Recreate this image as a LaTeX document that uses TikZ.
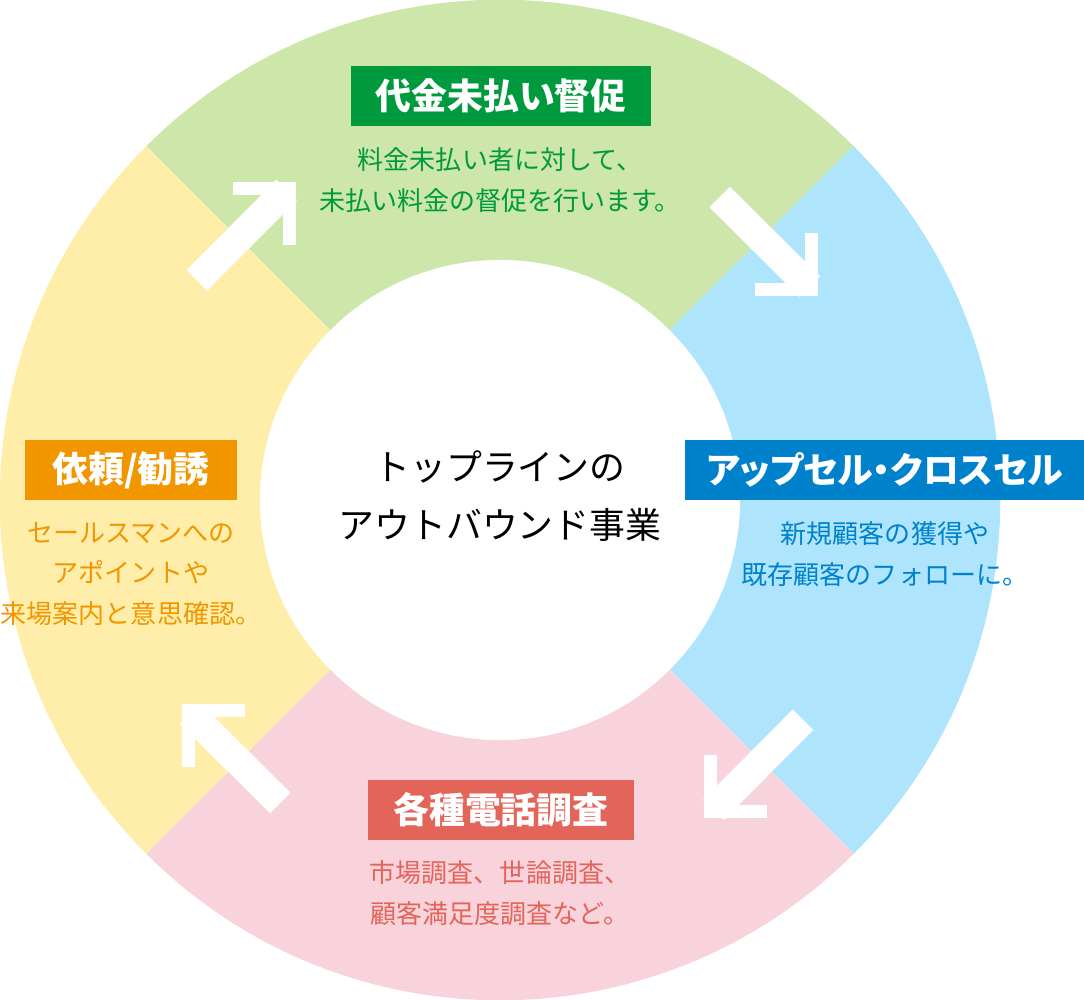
\documentclass[tikz,border=0pt]{standalone}
\usepackage{fontspec}
\setmainfont{Noto Sans CJK JP}
\newfontfamily\titlefont[RawFeature=+palt]{Noto Sans CJK JP}
\usetikzlibrary{positioning}

\definecolor{ringgreen}{HTML}{CDE6A9}
\definecolor{ringblue}{HTML}{AEE5FC}
\definecolor{ringpink}{HTML}{F9D3DC}
\definecolor{ringyellow}{HTML}{FEEEA9}
\definecolor{boxgreen}{HTML}{009A3E}
\definecolor{boxblue}{HTML}{0081CC}
\definecolor{boxred}{HTML}{E3655A}
\definecolor{boxorange}{HTML}{F29600}

\tikzset{
  titlebox/.style = {fill = #1, text = white, inner sep = 0pt, minimum height = 0.6cm,
    font = \titlefont\bfseries\fontsize{10.2pt}{12pt}\selectfont},
  desc/.style = {text = #1, inner sep = 0pt, align = center,
    font = \fontsize{7.4pt}{11.6pt}\selectfont},
  ringarrow/.style = {draw = white, line width = 8.25pt},
  arrowhead/.style = {draw = white, line width = 3.7pt, miter limit = 10}
}

\begin{document}
\begin{tikzpicture}[x = 0.01cm, y = 0.01cm]
					\useasboundingbox (-500, -500) rectangle (584, 500);
					\foreach \from/\col in {45/ringgreen, -45/ringblue, -135/ringpink, 135/ringyellow}
						\fill [\col] (\from:5cm) arc [start angle = \from, delta angle = 90, radius = 5cm]
							-- ({\from + 90}:2.4cm) arc [start angle = \from + 90, delta angle = -90, radius = 2.4cm] -- cycle;
					\foreach \turn in {0, -90, -180, -270} {
						\begin{scope}[rotate = \turn]
							\draw [ringarrow] (-303, 219.7) -- (-213.3, 310);
							\draw [arrowhead] (-267, 311.5) -- (-210.5, 311.5) -- (-210.5, 255);
						\end{scope}
					}
					\node (center) at (0, 4) [align = center, font = \fontsize{10.2pt}{16.5pt}\selectfont] {トップラインの\\アウトバウンド事業};
					\node (collect) at (1, 404) [titlebox = boxgreen, minimum width = 3cm] {代金未払い督促};
					\node (collecttext) at (0, 320) [desc = boxgreen] {料金未払い者に対して、\\未払い料金の督促を行います。};
					\node (upsell) at (384.5, 30) [titlebox = boxblue, minimum width = 3.99cm] {アップセル・クロスセル};
					\node (upselltext) at (385, -54) [desc = boxblue] {新規顧客の獲得や\\既存顧客のフォローに。};
					\node (survey) at (1, -310) [titlebox = boxred, minimum width = 2.66cm] {各種電話調査};
					\node (surveytext) at (0, -393) [desc = boxred] {市場調査、世論調査、\\顧客満足度調査など。};
					\node (appoint) at (-369, 30) [titlebox = boxorange, minimum width = 2.12cm] {依頼/勧誘};
					\node (appointtext) at (-369, -74) [desc = boxorange] {セールスマンへの\\アポイントや\\来場案内と意思確認。};
				\end{tikzpicture}
\end{document}
